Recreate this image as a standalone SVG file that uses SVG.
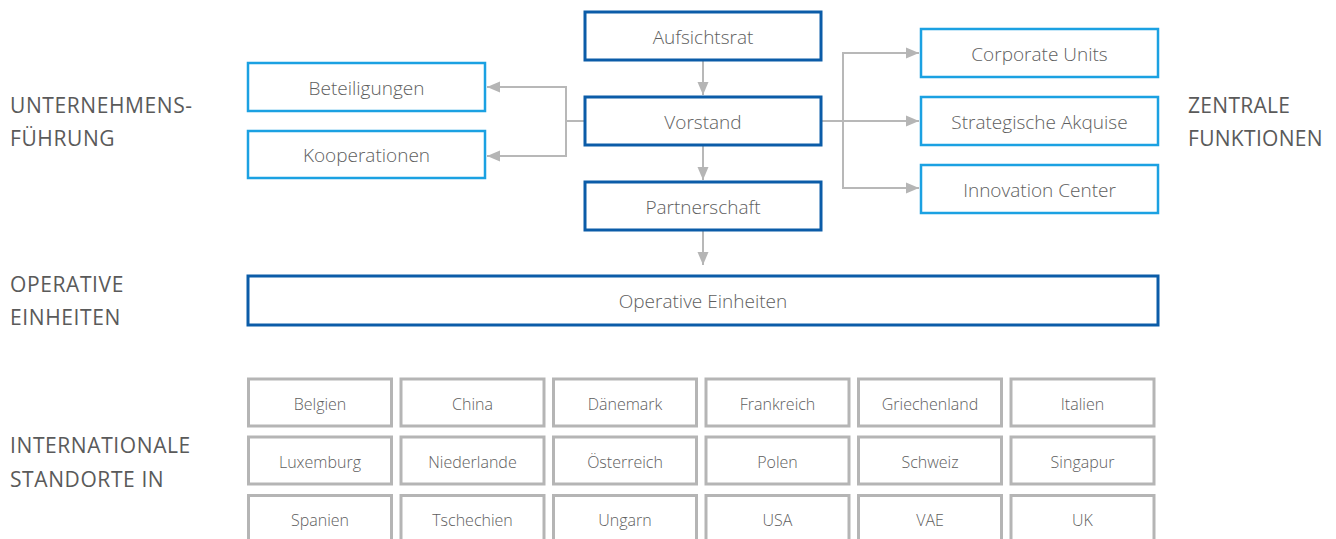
<svg xmlns="http://www.w3.org/2000/svg" width="1336" height="539" viewBox="0 0 1336 539">
<style>
text{font-family:"Open Sans","Noto Sans","Liberation Sans",sans-serif;font-weight:300;fill:#5e5e5e;text-anchor:middle}
.lbl{font-size:21px;font-weight:400;fill:#5a5a5a;text-anchor:start;letter-spacing:0.6px}
.r{letter-spacing:0.3px}
.n{font-size:19px}
.c{font-size:16px}
.dark{fill:#fff;stroke:#0b5ca8;stroke-width:3}
.light{fill:#fff;stroke:#1ba1e2;stroke-width:2.5}
.grey{fill:#fff;stroke:#b5b5b5;stroke-width:3}
.con{fill:none;stroke:#b8b8b8;stroke-width:2}
</style>
<defs>
<marker id="ah" markerUnits="userSpaceOnUse" markerWidth="14" markerHeight="12" refX="13" refY="6" orient="auto">
<path d="M0,0.5 L13,6 L0,11.5 z" fill="#b5b5b5"/>
</marker>
</defs>
<g id="labels">
<text class="lbl" x="10" y="113">UNTERNEHMENS-</text>
<text class="lbl" x="10" y="146">FÜHRUNG</text>
<text class="lbl" x="10" y="292">OPERATIVE</text>
<text class="lbl" x="10" y="325">EINHEITEN</text>
<text class="lbl" x="10" y="453">INTERNATIONALE</text>
<text class="lbl" x="10" y="487">STANDORTE IN</text>
<text class="lbl r" x="1188" y="113">ZENTRALE</text>
<text class="lbl r" x="1188" y="146">FUNKTIONEN</text>
</g>
<g id="connectors">
<path class="con" d="M703,60 V95" marker-end="url(#ah)"/>
<path class="con" d="M703,145 V180" marker-end="url(#ah)"/>
<path class="con" d="M703,230 V265" marker-end="url(#ah)"/>
<path class="con" d="M584,121 H566"/>
<path class="con" d="M566,121 V87 H487" marker-end="url(#ah)"/>
<path class="con" d="M566,121 V156 H487" marker-end="url(#ah)"/>
<path class="con" d="M822,121 H919" marker-end="url(#ah)"/>
<path class="con" d="M843,121 V53 H919" marker-end="url(#ah)"/>
<path class="con" d="M843,121 V188 H919" marker-end="url(#ah)"/>
</g>
<g id="aufsichtsrat"><rect class="dark" x="585" y="12" width="236" height="48"/><text class="n" x="703" y="43.5">Aufsichtsrat</text></g>
<g id="vorstand"><rect class="dark" x="585" y="97" width="236" height="48"/><text class="n" x="703" y="128.5">Vorstand</text></g>
<g id="partnerschaft"><rect class="dark" x="585" y="182" width="236" height="48"/><text class="n" x="703" y="213.5">Partnerschaft</text></g>
<g id="beteiligungen"><rect class="light" x="248" y="63" width="237" height="48"/><text class="n" x="366.5" y="94.5">Beteiligungen</text></g>
<g id="kooperationen"><rect class="light" x="248" y="131" width="237" height="47"/><text class="n" x="366.5" y="162">Kooperationen</text></g>
<g id="corporate-units"><rect class="light" x="921" y="29" width="237" height="48"/><text class="n" x="1039.5" y="60.5">Corporate Units</text></g>
<g id="strategische-akquise"><rect class="light" x="921" y="97" width="237" height="48"/><text class="n" x="1039.5" y="128.5">Strategische Akquise</text></g>
<g id="innovation-center"><rect class="light" x="921" y="165" width="237" height="48"/><text class="n" x="1039.5" y="196.5">Innovation Center</text></g>
<g id="operative-einheiten"><rect class="dark" x="248" y="276" width="910" height="49"/><text class="n" x="703" y="308">Operative Einheiten</text></g>
<g id="standorte">
<g id="belgien"><rect class="grey" x="248.5" y="379" width="143" height="47"/><text class="c" x="320" y="410">Belgien</text></g>
<g id="china"><rect class="grey" x="401" y="379" width="143" height="47"/><text class="c" x="472.5" y="410">China</text></g>
<g id="daenemark"><rect class="grey" x="553.5" y="379" width="143" height="47"/><text class="c" x="625" y="410">Dänemark</text></g>
<g id="frankreich"><rect class="grey" x="706" y="379" width="143" height="47"/><text class="c" x="777.5" y="410">Frankreich</text></g>
<g id="griechenland"><rect class="grey" x="858.5" y="379" width="143" height="47"/><text class="c" x="930" y="410">Griechenland</text></g>
<g id="italien"><rect class="grey" x="1011" y="379" width="143" height="47"/><text class="c" x="1082.5" y="410">Italien</text></g>
<g id="luxemburg"><rect class="grey" x="248.5" y="437" width="143" height="47"/><text class="c" x="320" y="468">Luxemburg</text></g>
<g id="niederlande"><rect class="grey" x="401" y="437" width="143" height="47"/><text class="c" x="472.5" y="468">Niederlande</text></g>
<g id="oesterreich"><rect class="grey" x="553.5" y="437" width="143" height="47"/><text class="c" x="625" y="468">Österreich</text></g>
<g id="polen"><rect class="grey" x="706" y="437" width="143" height="47"/><text class="c" x="777.5" y="468">Polen</text></g>
<g id="schweiz"><rect class="grey" x="858.5" y="437" width="143" height="47"/><text class="c" x="930" y="468">Schweiz</text></g>
<g id="singapur"><rect class="grey" x="1011" y="437" width="143" height="47"/><text class="c" x="1082.5" y="468">Singapur</text></g>
<g id="spanien"><rect class="grey" x="248.5" y="495.5" width="143" height="50"/><text class="c" x="320" y="526">Spanien</text></g>
<g id="tschechien"><rect class="grey" x="401" y="495.5" width="143" height="50"/><text class="c" x="472.5" y="526">Tschechien</text></g>
<g id="ungarn"><rect class="grey" x="553.5" y="495.5" width="143" height="50"/><text class="c" x="625" y="526">Ungarn</text></g>
<g id="usa"><rect class="grey" x="706" y="495.5" width="143" height="50"/><text class="c" x="777.5" y="526">USA</text></g>
<g id="vae"><rect class="grey" x="858.5" y="495.5" width="143" height="50"/><text class="c" x="930" y="526">VAE</text></g>
<g id="uk"><rect class="grey" x="1011" y="495.5" width="143" height="50"/><text class="c" x="1082.5" y="526">UK</text></g>
</g>
</svg>
